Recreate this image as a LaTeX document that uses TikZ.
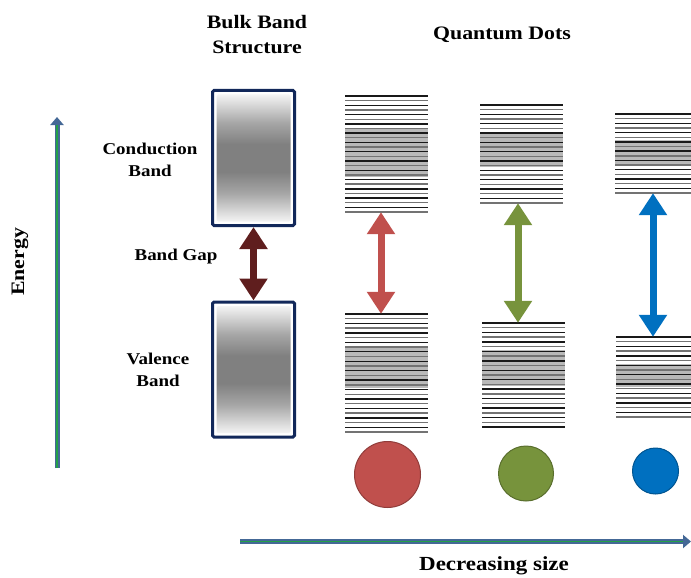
\documentclass[tikz,border=0pt]{standalone}
\usepackage{fontspec}
\setmainfont{Liberation Serif}[FakeStretch=1.15]
\usetikzlibrary{arrows.meta,positioning}

\definecolor{bandnavy}{RGB}{18,40,90}
\definecolor{gapdark}{RGB}{95,30,30}
\definecolor{qdred}{RGB}{192,80,77}
\definecolor{qdgreen}{RGB}{119,147,60}
\definecolor{qdblue}{RGB}{0,112,192}
\definecolor{axisblue}{RGB}{68,104,150}
\definecolor{axisgreen}{RGB}{36,160,72}

% grey fill of the bulk bands: pale at the edges, dark in the middle
\pgfdeclareverticalshading{bulkfill}{100bp}{color(0bp)=(white); color(25bp)=(white);
  color(37bp)=(gray!70); color(45bp)=(gray); color(55bp)=(gray);
  color(63bp)=(gray!70); color(75bp)=(white); color(100bp)=(white)}

% discrete levels of one dot band: name, x0, x1, top, dense top, dense bottom, bottom
\newcommand{\qdlevels}[7]{%
  \fill[gray!55] (#2,#5) rectangle (#3,#6);
  \pgfmathtruncatemacro\nlev{round((#7-#4)/4.7)}
  \foreach \k in {0,...,\nlev}{
    \pgfmathsetmacro\ylev{#4+(#7-#4)*\k/\nlev}
    \pgfmathtruncatemacro\tone{mod(\k,2)==0 ? 90 : 55}
    \draw[line width=1.4pt, black!\tone] (#2,\ylev) -- (#3,\ylev);
  }
  \node[inner sep=0, minimum width={#3-#2}, minimum height={#7-#4}] (#1)
    at ({(#2+#3)/2},{(#4+#7)/2}) {};
}

\tikzset{
  lbl/.style={font=\bfseries\fontsize{16.5}{22}\selectfont, align=center, inner sep=0},
  ttl/.style={font=\bfseries\fontsize{19}{25}\selectfont, align=center, inner sep=0},
  bulk/.style={draw=bandnavy, line width=3pt, rounded corners=1.5pt, fill=white,
    minimum width=82, minimum height=135, inner sep=0,
    path picture={\shade[shading=bulkfill]
      ([shift={(4pt,4pt)}]path picture bounding box.south west) rectangle
      ([shift={(-4pt,-4pt)}]path picture bounding box.north east);}},
  gap/.style={line width=7pt, {Triangle[length=22pt,width=27pt]}-{Triangle[length=22pt,width=27pt]}},
  dot/.style={circle, line width=1pt, inner sep=0},
  axis/.style={line width=5pt, axisblue, -{Triangle[length=8pt,width=13pt]}},
  axisline/.style={line width=1.3pt, axisgreen, shorten >=8pt},
}

\begin{document}
\begin{tikzpicture}[x=1pt, y=-1pt]
  \useasboundingbox (0,0) rectangle (691,578);

  % titles and labels
  \node[ttl] (bulkttl) at (257,35) {Bulk Band\\Structure};
  \node[ttl] (qdttl) at (502,35) {Quantum Dots};
  \node[lbl] (cblbl) at (150,160) {Conduction\\Band};
  \node[lbl] (gaplbl) at (176,257) {Band Gap};
  \node[lbl] (vblbl) at (158,370) {Valence\\Band};
  \node[ttl, rotate=90] (energy) at (20,262) {Energy};
  \node[ttl, font=\bfseries\fontsize{20}{24}\selectfont] (sizelbl) at (494,566) {Decreasing size};

  % axes
  \coordinate (elow) at (57,468);
  \coordinate (ehigh) at (57,117);
  \draw[axis] (elow) -- (ehigh);
  \draw[axisline] (elow) -- (ehigh);
  \coordinate (sleft) at (240,541.5);
  \coordinate (sright) at (691,541.5);
  \draw[axis] (sleft) -- (sright);
  \draw[axisline] (sleft) -- (sright);

  % bulk
  \node[bulk] (cbulk) at (253.5,158) {};
  \node[bulk] (vbulk) at (253.5,369.5) {};
  \draw[gap, gapdark] (cbulk.south) -- (vbulk.north);

  % quantum dots
  \qdlevels{cb1}{345}{428}{96}{128}{177}{212}
  \qdlevels{vb1}{345}{428}{314}{347}{388}{432}
  \qdlevels{cb2}{480}{563}{105}{132}{167}{203}
  \qdlevels{vb2}{482}{565}{323}{350}{386}{427}
  \qdlevels{cb3}{615}{691}{114}{140}{166}{193}
  \qdlevels{vb3}{616}{691}{337}{364}{387}{417}

  \draw[gap, qdred] ([xshift=-5.5pt]cb1.south) -- ([xshift=-5.5pt]cb1.south |- vb1.north);
  \draw[gap, qdgreen] ([xshift=-3.5pt]cb2.south) -- ([xshift=-3.5pt]cb2.south |- vb2.north);
  \draw[gap, qdblue] (cb3.south) -- (cb3.south |- vb3.north);

  \node[dot, fill=qdred, draw=qdred!75!black, minimum size=66] (dot1) at (387.5,474.5) {};
  \node[dot, fill=qdgreen, draw=qdgreen!75!black, minimum size=55] (dot2) at (526,473.5) {};
  \node[dot, fill=qdblue, draw=qdblue!75!black, minimum size=46] (dot3) at (655.5,471) {};
\end{tikzpicture}
\end{document}
